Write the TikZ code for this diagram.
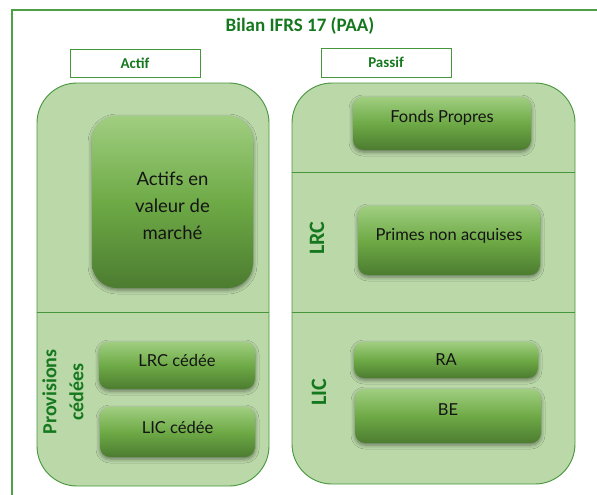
\documentclass[tikz,border=0pt]{standalone}
\usepackage{fontspec}
\setmainfont{Lato}
\newfontfamily\labelfont{Carlito}
\usetikzlibrary{shadows.blur}
\definecolor{frameGreen}{RGB}{78,160,70}
\definecolor{panelFill}{RGB}{186,216,168}
\definecolor{panelLine}{RGB}{70,150,60}
\definecolor{titleGreen}{RGB}{22,120,30}
\definecolor{boxTop}{RGB}{160,206,128}
\definecolor{boxMid}{RGB}{110,170,70}
\definecolor{boxBot}{RGB}{76,124,48}
\definecolor{inkText}{RGB}{20,20,20}
% shift a box caption vertically without changing its measured size
\newcommand\shiftcap[2]{\raisebox{#1}[\height][\depth]{#2}}
\tikzset{
  panel/.style={draw=panelLine, line width=0.9pt, fill=panelFill, rounded corners=40pt, inner sep=0pt},
  headbox/.style={draw=panelLine, line width=0.9pt, fill=white, inner sep=0pt,
    font=\labelfont\bfseries\fontsize{15}{17}\selectfont, text=titleGreen},
  itembox/.style={rounded corners=10pt, inner sep=0pt, top color=boxTop, bottom color=boxBot,
    middle color=boxMid, text=inkText, align=center,
    blur shadow={shadow xshift=0pt, shadow yshift=-2pt, shadow blur radius=4pt, shadow opacity=45},
    font=\fontsize{16.5}{20}\selectfont},
  sidelabel/.style={rotate=90, text=titleGreen, font=\labelfont\bfseries\fontsize{22}{23}\selectfont, align=center, inner sep=0pt},
  divider/.style={draw=panelLine, line width=0.9pt}
}
\begin{document}
\begin{tikzpicture}[x=1pt, y=-1pt]
\useasboundingbox (0,0) rectangle (597,495);
% outer frame (open on the right and bottom)
\draw[frameGreen, line width=1.2pt] (12,495) -- (12,10) -- (597,10);
\node[text=titleGreen, font=\labelfont\bfseries\fontsize{19}{21}\selectfont] (title) at (300,26) {Bilan IFRS 17 (PAA)};

% headers
\node[headbox, minimum width=130pt, minimum height=28pt] (actif) at (135,63) {Actif};
\node[headbox, minimum width=130pt, minimum height=29pt] (passif) at (386,62.5) {Passif};

% panels
\node[panel, minimum width=232pt, minimum height=403pt] (left) at (153,284.5) {};
\node[panel, minimum width=283pt, minimum height=401pt] (right) at (433.5,283.5) {};

% section dividers
\coordinate (l1) at (0,312);
\coordinate (r1) at (0,172);
\coordinate (r2) at (0,312);
\draw[divider] (left.west |- l1) -- (left.east |- l1);
\draw[divider] (right.west |- r1) -- (right.east |- r1);
\draw[divider] (right.west |- r2) -- (right.east |- r2);

% asset side
\node[itembox, rounded corners=25pt, minimum width=161pt, minimum height=172pt,
  font=\fontsize{18.5}{27}\selectfont] (market) at (172.5,202)
  {\shiftcap{-5pt}{\begin{tabular}{@{}c@{}}Actifs en\\valeur de\\march\'e\end{tabular}}};
\node[itembox, minimum width=156pt, minimum height=47pt] (lrcc) at (177,365.5) {\shiftcap{5pt}{LRC c\'ed\'ee}};
\node[itembox, minimum width=155pt, minimum height=50pt] (licc) at (177.5,432) {\shiftcap{5pt}{LIC c\'ed\'ee}};
\node[sidelabel, font=\labelfont\bfseries\fontsize{20}{27}\selectfont] (prov) at (63,392) {Provisions\\c\'ed\'ees};

% liability side
\node[itembox, minimum width=178pt, minimum height=53pt] (fonds) at (442,123.5) {\shiftcap{6pt}{Fonds Propres}};
\node[itembox, minimum width=182pt, minimum height=69pt] (primes) at (449,240.5) {\shiftcap{5pt}{Primes non acquises}};
\node[itembox, minimum width=184pt, minimum height=36pt] (ra) at (446,360) {RA};
\node[itembox, minimum width=186pt, minimum height=54pt] (be) at (448,416) {\shiftcap{6pt}{BE}};
\node[sidelabel] (lrc) at (317,238) {LRC};
\node[sidelabel] (lic) at (319,392) {LIC};
\end{tikzpicture}
\end{document}
